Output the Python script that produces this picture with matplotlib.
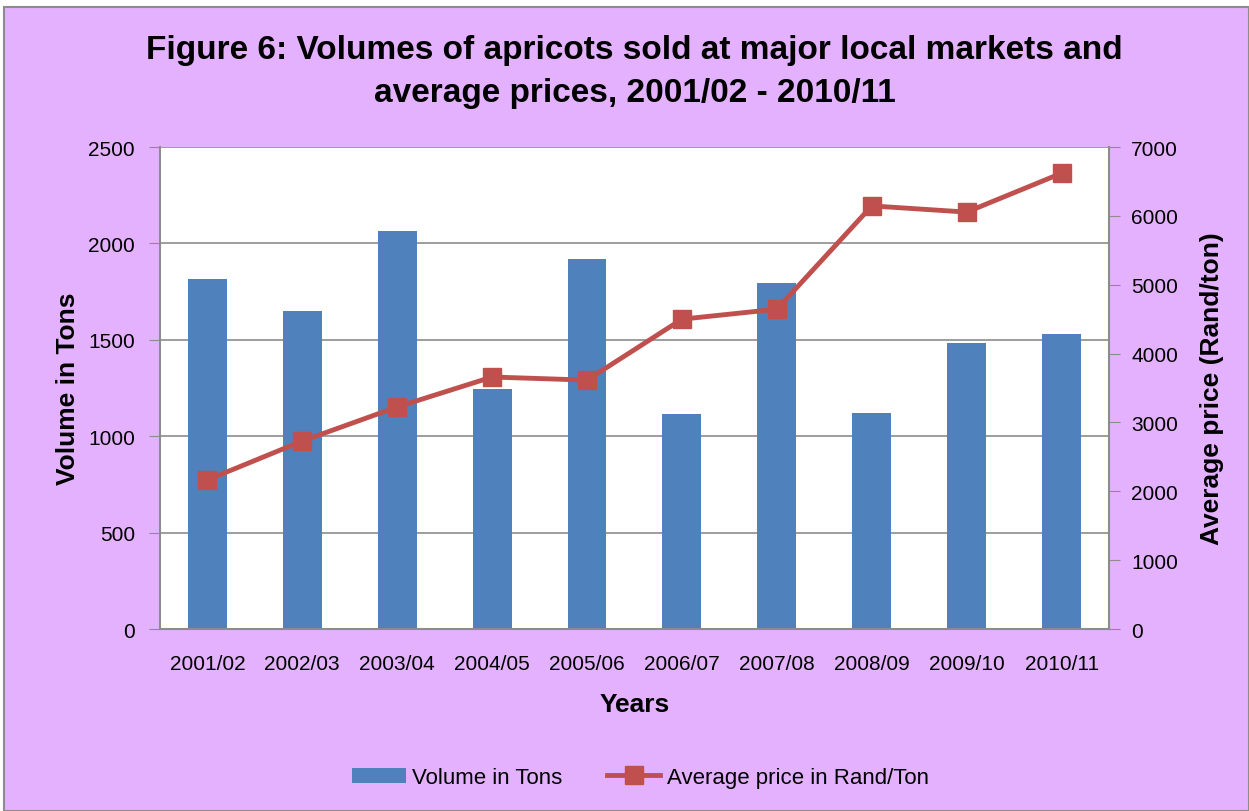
import matplotlib.pyplot as plt
import numpy as np
from matplotlib.patches import Rectangle
from matplotlib.lines import Line2D
from matplotlib.patches import Patch

years = ["2001/02", "2002/03", "2003/04", "2004/05", "2005/06",
         "2006/07", "2007/08", "2008/09", "2009/10", "2010/11"]
volume_tons = [1815, 1650, 2065, 1245, 1920, 1115, 1795, 1120, 1485, 1530]
avg_price = [2165, 2730, 3225, 3660, 3615, 4500, 4645, 6145, 6055, 6620]

bar_color = '#4F81BD'
line_color = '#C0504D'
bg_color = '#E3B1FD'
grid_color = '#8C8C8C'

plt.rcParams['font.family'] = ['Liberation Sans', 'DejaVu Sans']

fig = plt.figure(figsize=(12.49, 8.12), dpi=100, facecolor='white')
fig.patches.append(Rectangle((0.003, 0.0), 0.997, 0.99, transform=fig.transFigure,
                             facecolor=bg_color, edgecolor='#8C8C8C', linewidth=1.5, zorder=-10))

ax = fig.add_axes([0.128, 0.2241, 0.76, 0.5936])
ax.set_zorder(1)
ax.set_facecolor('white')
x = np.arange(len(years))
ax.bar(x, volume_tons, width=0.41, color=bar_color, zorder=2)
ax.set_xlim(-0.5, len(years) - 0.5)
ax.set_ylim(0, 2500)
ax.set_yticks(np.arange(0, 2501, 500))
ax.set_xticks(x)
ax.set_xticklabels(years, fontsize=15)
ax.tick_params(axis='y', labelsize=15, length=8, color=grid_color, pad=10)
ax.tick_params(axis='x', length=0, pad=18)
ax.grid(axis='y', color=grid_color, linewidth=1.2, zorder=1)
ax.set_axisbelow(True)
for s in ['top', 'right']:
    ax.spines[s].set_visible(False)
for s in ['left', 'bottom']:
    ax.spines[s].set_color(grid_color)
    ax.spines[s].set_linewidth(1.5)
ax.set_ylabel('Volume in Tons', fontsize=19, fontweight='bold', labelpad=6)
ax.set_xlabel('Years', fontsize=19, fontweight='bold', labelpad=14)

ax2 = ax.twinx()
ax2.plot(x, avg_price, color=line_color, linewidth=3.5, marker='s', markersize=13, zorder=3)
ax2.set_ylim(0, 7000)
ax2.set_yticks(np.arange(0, 7001, 1000))
ax2.tick_params(axis='y', labelsize=15, length=8, color=grid_color, pad=8)
for s in ['top', 'left', 'bottom']:
    ax2.spines[s].set_visible(False)
ax2.spines['right'].set_color(grid_color)
ax2.spines['right'].set_linewidth(1.5)
ax2.set_ylabel('Average price (Rand/ton)', fontsize=19, fontweight='bold', labelpad=16)

fig.text(0.508, 0.911, 'Figure 6: Volumes of apricots sold at major local markets and\naverage prices, 2001/02 - 2010/11',
         ha='center', va='center', fontsize=24, fontweight='bold', linespacing=1.5)

handles = [Patch(facecolor=bar_color, label='Volume in Tons'),
           Line2D([0], [0], color=line_color, linewidth=3.5, marker='s', markersize=13,
                  label='Average price in Rand/Ton')]
fig.legend(handles=handles, loc='center', bbox_to_anchor=(0.513, 0.041), ncol=2, frameon=False,
           fontsize=16, handlelength=2.4, columnspacing=2.0, handletextpad=0.3)

fig.savefig('out.png', dpi=100, facecolor='white')
